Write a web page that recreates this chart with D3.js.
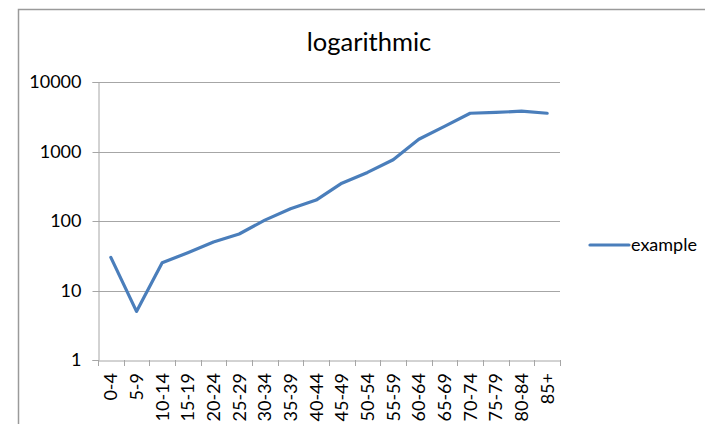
<!DOCTYPE html>
<html>
<head>
<meta charset="utf-8">
<script src="https://cdn.jsdelivr.net/npm/d3@7"></script>
<style>
  html, body { margin: 0; padding: 0; background: #fff; }
  svg { display: block; }
  text { font-family: Lato, "Liberation Sans", sans-serif; fill: #000; }
</style>
</head>
<body>
<svg id="chart" width="705" height="424"></svg>
<script>
const categories = ["0-4","5-9","10-14","15-19","20-24","25-29","30-34","35-39","40-44","45-49","50-54","55-59","60-64","65-69","70-74","75-79","80-84","85+"];
const values = [30, 5, 25, 35, 50, 65, 103, 150, 200, 350, 500, 760, 1500, 2300, 3550, 3650, 3800, 3550];
const yTicks = [1, 10, 100, 1000, 10000];
const seriesName = "example";
const titleText = "logarithmic";

const svg = d3.select("#chart");
const W = 705, H = 424;
const m = { left: 98, right: 560, top: 82, bottom: 360 };
const FS = 18;

svg.append("rect").attr("width", W).attr("height", H).attr("fill", "#fff");
// outer chart frame (cropped on right/bottom)
svg.append("rect").attr("x", 18.5).attr("y", 9.5).attr("width", 800).attr("height", 800)
  .attr("fill", "none").attr("stroke", "#9a9a9a").attr("stroke-width", 1.5);

const x = d3.scaleBand().domain(categories).range([m.left, m.right]).padding(0);
const y = d3.scaleLog().domain([1, 10000]).range([m.bottom, m.top]);

// gridlines
svg.append("g").selectAll("line").data(yTicks.slice(1)).join("line")
  .attr("x1", m.left).attr("x2", m.right)
  .attr("y1", d => Math.round(y(d)) + 0.5).attr("y2", d => Math.round(y(d)) + 0.5)
  .attr("stroke", "#a6a6a6").attr("stroke-width", 1);

// y axis
const yAxis = svg.append("g").attr("transform", `translate(${m.left + 0.5},0)`)
  .call(d3.axisLeft(y).tickValues(yTicks).tickFormat(d3.format("d")).tickSize(6).tickPadding(11));
yAxis.select(".domain").attr("stroke", "#a6a6a6");
yAxis.selectAll(".tick line").attr("stroke", "#a6a6a6");
yAxis.selectAll(".tick").attr("transform", d => `translate(0,${Math.round(y(d)) + 0.5})`);
yAxis.selectAll("text").attr("font-size", FS).attr("font-family", "Lato, 'Liberation Sans', sans-serif").attr("fill", "#000");

// x axis
const xAxis = svg.append("g").attr("transform", `translate(0,${m.bottom + 0.5})`)
  .call(d3.axisBottom(x).tickSize(0).tickFormat(""));
xAxis.select(".domain").attr("stroke", "#a6a6a6");
xAxis.selectAll(".tick").remove();
const bounds = categories.map((c) => x(c)).concat([m.right]);
svg.append("g").selectAll("line").data(bounds).join("line")
  .attr("x1", d => Math.round(d) + 0.5).attr("x2", d => Math.round(d) + 0.5)
  .attr("y1", m.bottom).attr("y2", m.bottom + 6)
  .attr("stroke", "#a6a6a6");
svg.append("g").selectAll("text").data(categories).join("text")
  .attr("transform", d => `translate(${x(d) + x.bandwidth() / 2 + 6.5},${m.bottom + 13}) rotate(-90)`)
  .attr("text-anchor", "end")
  .attr("font-size", FS)
  .text(d => d);

// line
const line = d3.line().x((d, i) => x(categories[i]) + x.bandwidth() / 2).y(d => y(d));
svg.append("path").datum(values).attr("d", line)
  .attr("fill", "none").attr("stroke", "#4a7ebb").attr("stroke-width", 3.2)
  .attr("stroke-linejoin", "round").attr("stroke-linecap", "round");

// title
svg.append("text").attr("x", 369).attr("y", 51).attr("text-anchor", "middle")
  .attr("font-size", 25.5).text(titleText);

// legend
svg.append("line").attr("x1", 590).attr("x2", 629).attr("y1", 245).attr("y2", 245)
  .attr("stroke", "#4a7ebb").attr("stroke-width", 3.2).attr("stroke-linecap", "round");
svg.append("text").attr("x", 631).attr("y", 251).attr("font-size", FS).text(seriesName);
</script>
</body>
</html>
